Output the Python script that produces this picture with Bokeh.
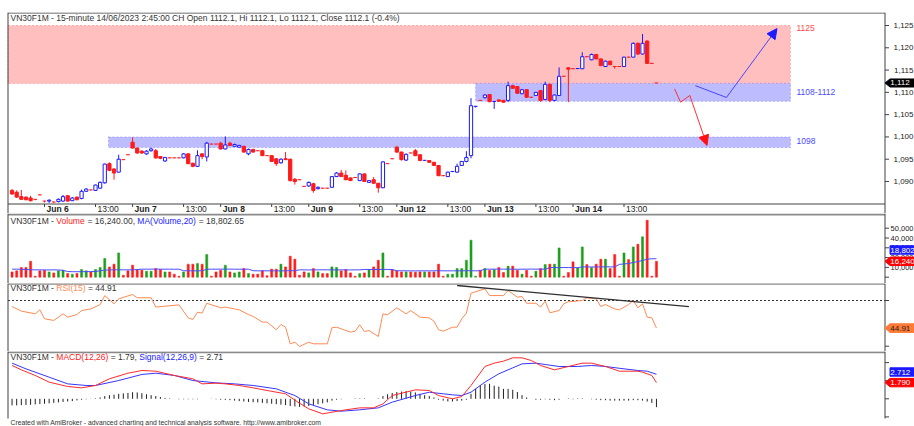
from bokeh.plotting import figure
from bokeh.models import Range1d, BoxAnnotation, Arrow, NormalHead
from bokeh.layouts import column
from bokeh.embed import file_html
from bokeh.resources import INLINE
from bokeh.core.properties import value

# ---------------- data ----------------
FIRST_BAR = -7          # bars before Jun 6 09:00 (Jun 5 afternoon)
bar_index = list(range(FIRST_BAR, 133))

day_ticks = [0, 11, 19, 30, 38, 49, 57, 68, 76, 87, 95, 106, 114, 125]
day_labels = ["Jun 6", "13:00", "Jun 7", "13:00", "Jun 8", "13:00", "Jun 9", "13:00",
              "Jun 12", "13:00", "Jun 13", "13:00", "Jun 14", "13:00"]

opens = [1088.0, 1087.6, 1086.6, 1086.5, 1086.3, 1086.0, 1087.0, 1085.6, 1085.6, 1085.4,
         1085.5, 1085.6, 1086.8, 1085.7, 1086.5, 1086.2, 1087.8, 1088.1, 1088.0, 1088.5,
         1089.7, 1094.0, 1092.8, 1092.1, 1094.9, 1096.0, 1098.8, 1097.5, 1096.8, 1096.2,
         1096.9, 1096.9, 1095.6, 1094.6, 1095.3, 1095.3, 1095.3, 1095.3, 1096.2, 1094.1,
         1093.4, 1096.2, 1095.5, 1098.4, 1098.4, 1098.6, 1097.3, 1098.6, 1097.9, 1097.7,
         1097.9, 1096.2, 1097.2, 1096.9, 1096.9, 1095.8, 1095.8, 1095.1, 1094.2, 1095.1,
         1095.0, 1090.5, 1090.4, 1088.9, 1089.0, 1089.5, 1088.4, 1088.5, 1088.5, 1088.7,
         1091.1, 1091.9, 1091.4, 1090.8, 1090.9, 1090.2, 1091.7, 1089.8, 1090.4, 1089.6,
         1088.6, 1094.0, 1095.1, 1097.7, 1096.6, 1094.8, 1096.4, 1096.9, 1096.0, 1094.65,
         1094.7, 1094.3, 1093.6, 1091.3, 1091.1, 1092.15, 1092.1, 1093.6, 1094.5, 1095.8,
         1106.75, 1108.2, 1108.8, 1109.5, 1107.85, 1108.3, 1108.2, 1108.2, 1111.5, 1111.3,
         1109.7, 1110.6, 1108.9, 1109.3, 1110.4, 1108.4, 1111.8, 1108.2, 1109.3, 1113.6,
         1115.5, 1115.3, 1115.25, 1115.3, 1118.0, 1117.3, 1118.5, 1117.5, 1115.8, 1117.0,
         1115.8, 1115.8, 1115.8, 1117.9, 1117.9, 1121.0, 1118.6, 1121.5, 1116.5, 1112.1]
highs = [1088.3, 1088.0, 1088.1, 1086.6, 1086.8, 1086.1, 1087.1, 1085.7, 1086.0, 1085.5,
         1086.2, 1087.0, 1087.0, 1086.5, 1086.6, 1088.2, 1088.5, 1088.2, 1089.3, 1090.0,
         1094.0, 1094.3, 1093.0, 1096.0, 1095.0, 1096.1, 1099.9, 1097.6, 1097.0, 1097.0,
         1097.6, 1097.3, 1095.7, 1095.5, 1095.4, 1095.4, 1095.4, 1096.4, 1096.3, 1094.2,
         1097.0, 1096.3, 1098.9, 1098.5, 1098.5, 1098.9, 1100.1, 1098.9, 1098.5, 1098.2,
         1098.0, 1097.4, 1097.3, 1097.0, 1097.0, 1095.9, 1095.9, 1095.2, 1095.2, 1096.6,
         1095.1, 1090.8, 1090.5, 1089.0, 1090.0, 1089.7, 1088.9, 1088.6, 1088.6, 1091.2,
         1092.1, 1092.6, 1092.5, 1090.9, 1091.0, 1091.8, 1091.8, 1090.3, 1091.0, 1089.7,
         1094.5, 1094.1, 1095.2, 1098.0, 1096.7, 1096.3, 1096.5, 1097.3, 1096.1, 1094.8,
         1094.8, 1094.4, 1093.7, 1091.4, 1092.2, 1092.3, 1094.0, 1094.6, 1096.8, 1108.7,
         1107.0, 1108.3, 1109.6, 1109.6, 1108.0, 1108.4, 1108.3, 1112.4, 1111.7, 1111.4,
         1110.7, 1110.7, 1109.0, 1110.1, 1110.5, 1112.4, 1112.0, 1109.5, 1115.6, 1113.7,
         1115.6, 1115.4, 1115.4, 1119.0, 1118.1, 1118.7, 1118.6, 1117.6, 1117.1, 1117.1,
         1115.9, 1115.9, 1118.0, 1118.0, 1121.2, 1121.2, 1123.1, 1121.7, 1116.6, 1112.1]
lows = [1087.0, 1086.3, 1085.9, 1085.8, 1085.5, 1085.8, 1086.9, 1085.3, 1085.2, 1085.2,
        1085.3, 1085.5, 1085.5, 1085.6, 1085.8, 1086.0, 1087.7, 1088.0, 1087.9, 1088.4,
        1089.5, 1092.3, 1090.4, 1092.0, 1094.8, 1095.9, 1097.4, 1096.2, 1096.2, 1096.0,
        1096.7, 1095.1, 1095.0, 1094.4, 1095.2, 1095.2, 1095.2, 1095.2, 1093.9, 1093.2,
        1093.3, 1095.0, 1094.5, 1098.3, 1098.3, 1097.2, 1097.2, 1098.0, 1097.8, 1097.6,
        1096.5, 1095.9, 1096.5, 1096.8, 1095.7, 1095.7, 1094.4, 1093.5, 1094.0, 1094.8,
        1090.0, 1089.3, 1090.3, 1088.8, 1088.8, 1087.5, 1088.2, 1088.4, 1088.4, 1088.6,
        1091.0, 1091.0, 1090.3, 1090.1, 1090.8, 1090.1, 1089.9, 1089.7, 1089.5, 1087.5,
        1088.5, 1093.9, 1095.0, 1096.4, 1094.7, 1094.6, 1096.3, 1095.7, 1094.6, 1094.6,
        1094.2, 1093.5, 1091.2, 1091.2, 1091.0, 1092.1, 1092.0, 1093.5, 1094.3, 1095.2,
        1106.6, 1108.1, 1108.6, 1107.8, 1106.3, 1107.9, 1107.7, 1107.8, 1110.8, 1109.7,
        1109.6, 1108.8, 1108.8, 1109.2, 1107.9, 1108.3, 1107.8, 1108.0, 1109.2, 1113.5,
        1107.8, 1115.2, 1115.2, 1115.2, 1117.9, 1117.2, 1117.4, 1115.9, 1115.7, 1116.1,
        1115.3, 1115.7, 1115.7, 1117.8, 1117.8, 1118.4, 1118.5, 1116.4, 1116.4, 1112.1]
closes = [1087.2, 1086.5, 1086.0, 1085.9, 1085.7, 1086.0, 1087.0, 1085.6, 1085.8, 1085.4,
          1086.0, 1086.6, 1085.6, 1086.3, 1085.9, 1087.8, 1088.3, 1088.1, 1089.2, 1089.8,
          1093.9, 1092.5, 1091.9, 1095.0, 1094.9, 1096.0, 1097.5, 1096.4, 1096.4, 1096.8,
          1097.3, 1095.3, 1095.2, 1095.4, 1095.3, 1095.3, 1095.3, 1096.2, 1094.0, 1093.4,
          1095.8, 1095.6, 1098.6, 1098.4, 1098.4, 1097.3, 1098.2, 1098.1, 1098.3, 1098.1,
          1096.6, 1097.2, 1096.6, 1096.9, 1095.8, 1095.8, 1094.5, 1094.0, 1095.0, 1094.9,
          1090.2, 1090.0, 1090.4, 1088.9, 1089.8, 1088.0, 1088.7, 1088.5, 1088.5, 1091.1,
          1091.9, 1091.1, 1090.4, 1090.2, 1090.9, 1091.7, 1090.0, 1090.2, 1089.6, 1088.6,
          1094.4, 1094.0, 1095.1, 1096.6, 1094.9, 1096.1, 1096.4, 1095.8, 1094.7, 1094.75,
          1094.3, 1093.6, 1091.3, 1091.3, 1092.1, 1092.25, 1093.4, 1094.5, 1095.4, 1107.0,
          1106.85, 1108.2, 1109.4, 1107.9, 1107.95, 1108.0, 1107.8, 1111.5, 1110.9, 1109.8,
          1110.6, 1108.9, 1108.9, 1110.0, 1108.2, 1111.8, 1108.2, 1109.4, 1113.6, 1113.6,
          1115.2, 1115.3, 1115.35, 1118.0, 1118.0, 1118.5, 1117.5, 1116.0, 1117.0, 1116.2,
          1115.8, 1115.8, 1117.9, 1117.9, 1121.0, 1118.6, 1121.0, 1116.5, 1116.5, 1112.1]

volume = [5400, 6500, 9900, 9900, 16300, 1000, 6500, 7100, 5400, 4400,
          6500, 7100, 3700, 3100, 3700, 7800, 6500, 5400, 7800, 9900,
          19100, 10500, 13300, 24800, 2000, 6500, 12300, 7800, 7100, 6100,
          6100, 8800, 7800, 5400, 5400, 3100, 1000, 5400, 13300, 13300,
          14000, 13300, 23200, 1000, 5400, 7100, 12300, 5400, 4400, 5400,
          8800, 3700, 3100, 3100, 6500, 1500, 8200, 8200, 13300, 10500,
          21400, 18400, 2000, 5400, 4400, 8800, 5400, 3700, 3700, 10500,
          9900, 6500, 7800, 4400, 1000, 3700, 4400, 7800, 10500, 17300,
          24800, 1000, 7800, 6500, 5400, 5400, 5400, 5100, 5400, 5400,
          5400, 5400, 13300, 1000, 3000, 3100, 8800, 8800, 17300, 37800,
          1000, 7100, 8800, 7100, 7800, 9900, 4800, 11300, 11300, 7100,
          3100, 7100, 1000, 6100, 8800, 12900, 13300, 13300, 29900, 1000,
          4800, 15700, 9500, 30900, 12900, 9900, 13300, 18400, 18400, 8800,
          23200, 1000, 24800, 18000, 30900, 33700, 41200, 58200, 1000, 16240]
vol_ma = [8200, 8200, 8100, 7800, 7600, 7500, 7500, 7400, 7400, 7500,
          7400, 7000, 5800, 5600, 5600, 5600, 5700, 5700, 5800, 6600,
          7200, 7400, 7500, 7600, 7500, 7500, 7500, 7800, 8200, 8200,
          8200, 8300, 8200, 8200, 8200, 8100, 8200, 6600, 6500, 6500,
          6500, 6600, 8100, 8200, 8200, 8200, 8300, 8200, 8200, 8100,
          8200, 8200, 6600, 6500, 6500, 6500, 6500, 6400, 6500, 6500,
          6600, 6600, 7500, 7500, 7400, 7500, 7500, 7600, 7500, 7500,
          7400, 7500, 7500, 7400, 7500, 7500, 7900, 7900, 7800, 7900,
          8000, 7900, 7900, 6500, 6600, 6500, 6500, 6400, 6500, 6500,
          6500, 6500, 6600, 6500, 6500, 6500, 6500, 6500, 6600, 6600,
          6500, 6600, 8200, 8200, 8200, 8300, 8200, 8200, 8200, 8100,
          8200, 8200, 8300, 8200, 8200, 8200, 9800, 9800, 9800, 9900,
          9800, 9800, 9800, 10500, 10500, 10400, 10500, 10500, 10600, 10500,
          10500, 13100, 13500, 14000, 15000, 16000, 17000, 18400, 18800, 18802.65]

rsi_bar = [-7, -5, -2, -1, 0, 2, 4, 5, 7, 8, 10, 12, 13, 15, 16, 19, 20, 23, 24, 29,
           31, 32, 33, 34, 35, 38, 39, 41, 42, 44, 45, 47, 48, 50, 51, 52, 53, 54, 55, 57,
           58, 61, 62, 63, 66, 67, 68, 69, 70, 72, 73, 74, 76, 78, 79, 81, 83, 84, 85, 86,
           88, 89, 90, 91, 92, 95, 96, 99, 100, 102, 103, 104, 106, 107, 108, 109, 111, 112,
           113, 116, 117, 119, 120, 121, 123, 124, 126, 127, 128, 129, 130, 131, 132]
rsi_val = [56.7, 54.2, 52.7, 54.9, 50.0, 49.1, 52.7, 50.9, 52.3, 54.5, 55.4, 57.8, 62.7,
           58.2, 60.9, 63.3, 61.5, 61.5, 56.4, 57.6, 50.5, 49.6, 53.6, 53.1, 58.5, 56.0,
           56.4, 55.4, 54.9, 52.3, 51.3, 48.2, 48.2, 44.0, 46.9, 45.4, 36.3, 37.2, 34.8,
           37.2, 36.3, 36.3, 45.1, 45.4, 42.7, 43.2, 46.7, 43.0, 43.6, 40.3, 52.7, 52.2,
           56.0, 52.7, 54.5, 50.9, 50.5, 48.7, 44.0, 43.2, 45.4, 45.4, 50.0, 53.1, 64.0,
           66.4, 62.7, 62.7, 65.5, 61.8, 62.2, 58.5, 58.5, 56.4, 59.6, 53.3, 54.5, 58.2,
           59.3, 60.0, 61.5, 60.9, 56.7, 57.8, 55.4, 54.9, 57.8, 60.0, 56.0, 58.2, 50.9,
           50.5, 44.91]
rsi_trend_bar = [89.0, 139.0]
rsi_trend_val = [68.2, 56.7]

macd_bar = [-7, -5, -2, 1, 5, 8, 11, 14, 18, 21, 24, 28, 32, 34, 37, 39, 42, 45, 48, 52,
            55, 57, 60, 62, 65, 68, 71, 73, 75, 80, 83, 85, 88, 90, 92, 95, 97, 99, 101,
            103, 105, 107, 110, 113, 116, 118, 121, 124, 126, 128, 129, 131, 132]
macd_val = [3.68, 3.20, 2.58, 1.84, 1.36, 1.21, 1.47, 2.21, 2.83, 3.13, 3.05, 2.58, 2.21,
            1.65, 1.73, 1.65, 1.47, 1.21, 0.92, 0.55, -0.48, -1.11, -1.66, -1.48, -1.22,
            -1.00, -1.00, -0.56, 0.36, 0.99, 0.92, 0.36, 0.0, 0.25, 1.47, 3.57, 3.94, 4.16,
            4.53, 4.53, 4.23, 3.68, 3.20, 3.57, 3.94, 3.94, 3.57, 3.05, 3.05, 3.05, 2.94,
            2.58, 1.79]
sig_bar = [-7, -4, 1, 5, 9, 11, 16, 21, 24, 28, 32, 37, 41, 45, 50, 54, 57, 61, 64, 68,
           72, 75, 80, 83, 86, 88, 90, 92, 95, 98, 101, 103, 106, 108, 111, 115, 118, 121,
           125, 128, 130, 132]
sig_val = [3.94, 3.31, 2.39, 1.65, 1.47, 1.47, 2.02, 2.69, 2.83, 2.58, 2.02, 1.76, 1.65,
           1.47, 1.10, 0.36, -0.56, -1.22, -1.37, -1.22, -1.00, -0.37, 0.36, 0.73, 0.55,
           0.44, 0.36, 0.73, 1.84, 2.76, 3.42, 3.86, 3.94, 3.79, 3.57, 3.57, 3.68, 3.57,
           3.31, 3.13, 3.05, 2.71]
hist = [-0.73, -0.73, -0.70, -0.68, -0.66, -0.62, -0.58, -0.55,
        -0.5, -0.45, -0.4, -0.35, -0.3, -0.25, -0.18,
        -0.1, -0.05, 0.02, 0.05,
        0.15, 0.3, 0.4, 0.45, 0.55, 0.6, 0.65, 0.73, 0.7, 0.62, 0.5, 0.4,
        0.3, 0.2, 0.1, 0.05, 0.0, -0.05, -0.05, -0.05, -0.05, -0.05, 0.0, 0.0, 0.02,
        -0.05, -0.1, -0.12, -0.15, -0.2, -0.25, -0.3, -0.35, -0.38, -0.4, -0.45, -0.5,
        -0.55, -0.6, -0.65, -0.7, -0.8, -0.85, -0.9,
        -0.85, -0.8, -0.7, -0.6, -0.5, -0.4,
        -0.2, -0.1, -0.05, 0.0, 0.0, 0.05, 0.05, 0.05, 0.0, 0.0, 0.05,
        0.3, 0.5, 0.65, 0.75, 0.8, 0.85, 0.8, 0.7, 0.55, 0.4, 0.3, 0.15,
        -0.1, -0.2, -0.3, -0.3, -0.25, -0.2, -0.1,
        0.55, 1.1, 1.5, 1.65, 1.65, 1.45, 1.35, 1.1, 1.1, 1.0, 0.75, 0.4, 0.15,
        0.0, -0.1, -0.1, -0.05, -0.1, -0.15, -0.1, 0.0, 0.05, -0.05, 0.05, 0.05, 0.0,
        -0.05, -0.1, -0.15, -0.15, -0.2, -0.2, -0.2, -0.2, -0.2, -0.15, -0.15, -0.2,
        -0.3, -0.45, -0.92]

price_ticks = [1090, 1095, 1100, 1105, 1110, 1115, 1120, 1125]
price_tick_labels = ["1,090", "1,095", "1,100", "1,105", "1,110", "1,115", "1,120", "1,125"]
vol_ticks = [0, 10000, 20000, 30000, 40000, 50000]
vol_label_ticks = [10000, 20000, 30000, 40000, 50000]
vol_tick_labels = ["10,000", "20,000", "30,000", "40,000", "50,000"]
rsi_ticks = [35, 60]
rsi_level = 60
macd_ticks = [-2, 0, 2, 4]

# zones (price levels) and their bar extents
red_zone = (1112.0, 1125.0)
mid_zone = (1108.0, 1112.0)
low_zone = (1097.6, 1100.0)
zone_end_bar = 160.9
mid_zone_start = 93.0
low_zone_start = 13.8
# projected paths (bar, price)
up_path_bar = [140.4, 147.1, 158.0]
up_path_px = [1111.5, 1108.85, 1124.3]
down_path_bar = [135.9, 137.2, 139.2, 142.9]
down_path_px = [1110.8, 1107.8, 1109.3, 1098.1]

FOOTER = ("Created with AmiBroker - advanced charting and technical analysis software. "
          "http://www.amibroker.com")

# ---------------- layout helpers ----------------
W = 914
DX = 4.636      # screen px per bar
X_BAR0 = 44.0   # page x of bar 0


def ix(page_x):
    return (page_x - X_BAR0) / DX


def py(yp):
    return 1125 - (yp - 25) / 4.457


def vy(yp):
    return (276.7 - yp) / 0.98 * 1000


def ry(yp):
    return 60 - (yp - 300) / 1.828


def my(yp):
    return (398.3 - yp) / 9.05


xr = Range1d(ix(0), ix(914))
FONT = "Liberation Sans"
FS = "8.5px"
DARK = "#333333"
AXIS = "#404040"
SEP = "#8a8a8a"
RED = "#ff1a1a"
BLUE = "#1a1aff"
GREEN = "#1e9e1e"
ORANGE = "#ff8a55"
LEFT = 7.5
RIGHT = 884.5

AWID = {' ': 278, '%': 889, '(': 333, ')': 333, ',': 278, '-': 333, '.': 278, '/': 278,
        ':': 278, '=': 584, 'A': 667, 'C': 722, 'D': 722, 'F': 611, 'H': 722, 'I': 278,
        'L': 556, 'M': 833, 'N': 722, 'O': 778, 'R': 722, 'S': 667, 'V': 667,
        'a': 556, 'e': 556, 'g': 556, 'i': 222, 'l': 222, 'm': 833, 'n': 556, 'o': 556,
        'p': 556, 's': 500, 't': 278, 'u': 556}


def tw(s, size=8.5):
    return sum(AWID.get(c, 556) for c in s) * size / 1000.0


def make_fig(h, yr, top=0):
    f = figure(width=W, height=h, x_range=xr, y_range=Range1d(*yr), toolbar_location=None,
               output_backend="svg", x_axis_type=None, y_axis_type=None,
               min_border=0, min_border_top=top, min_border_bottom=0,
               min_border_left=0, min_border_right=0)
    f.outline_line_color = None
    f.background_fill_color = "white"
    f.border_fill_color = "white"
    return f


def put(f, x, y, s, color, align="left", bold=False, size=FS, xo=0, yo=0):
    f.text(x=x if isinstance(x, list) else [x], y=y if isinstance(y, list) else [y],
           text=s if isinstance(s, list) else [s], text_color=color,
           text_font=value(FONT), text_font_size=value(size), text_align=align,
           text_baseline="middle", text_font_style="bold" if bold else "normal",
           x_offset=xo, y_offset=yo)


def header(f, y, parts, x_page=10.0):
    x = x_page
    for s, col in parts:
        stripped = s.lstrip(' ')
        x += tw(' ') * (len(s) - len(stripped))
        put(f, ix(x), y, stripped, col)
        x += tw(stripped)


def borders(f, ymap, top_y, bot_y):
    f.segment(x0=[ix(LEFT), ix(RIGHT)], y0=[ymap(top_y)] * 2, x1=[ix(LEFT), ix(RIGHT)],
              y1=[ymap(bot_y)] * 2, line_color=AXIS, line_width=1)


def right_ticks(f, ticks):
    n = len(ticks)
    f.segment(x0=[ix(RIGHT)] * n, y0=ticks, x1=[ix(888.5)] * n, y1=ticks,
              line_color=AXIS, line_width=1)


def marker(f, yv, half, fill, label, tcol, arrow=True):
    xt, xb, xe = ix(RIGHT), ix(889.5), ix(916)
    if arrow:
        xs = [xt, xb, xe, xe, xb]
        ys = [yv, yv + half, yv + half, yv - half, yv - half]
    else:
        xs = [xb, xe, xe, xb]
        ys = [yv + half, yv + half, yv - half, yv - half]
    f.patch(xs, ys, fill_color=fill, line_color=fill)
    put(f, ix(889.8), yv, label, tcol, size="8px")


# ---------------- price pane ----------------
pp = make_fig(213, (py(213), py(12)), top=12)
pp.add_layout(BoxAnnotation(left=ix(LEFT), right=zone_end_bar, bottom=red_zone[0],
                            top=red_zone[1], fill_color="#ffbfbf", fill_alpha=1,
                            line_color="#ff3b3b", line_dash="2 2", line_width=1,
                            level="underlay"))
pp.add_layout(BoxAnnotation(left=mid_zone_start, right=zone_end_bar, bottom=mid_zone[0],
                            top=mid_zone[1], fill_color="#bcbcff", fill_alpha=1,
                            line_color="#3b3bff", line_dash="2 2", line_width=1, level="underlay"))
pp.add_layout(BoxAnnotation(left=low_zone_start, right=zone_end_bar, bottom=low_zone[0],
                            top=low_zone[1], fill_color="#bcbcff", fill_alpha=1,
                            line_color="#3b3bff", line_dash="2 2", line_width=1, level="underlay"))

up_x, up_lo, up_hi, dn_x, dn_lo, dn_hi, dj_x, dj_y, dj_c = [], [], [], [], [], [], [], [], []
wick_c = []
for i, o, h, l, c in zip(bar_index, opens, highs, lows, closes):
    up = c > o
    wick_c.append(BLUE if up else RED)
    if abs(c - o) < 0.12:
        dj_x.append(i)
        dj_y.append(c)
        dj_c.append(BLUE if up else RED)
    elif up:
        up_x.append(i); up_lo.append(o); up_hi.append(c)
    else:
        dn_x.append(i); dn_lo.append(c); dn_hi.append(o)

pp.segment(x0=bar_index, y0=lows, x1=bar_index, y1=highs, line_color=wick_c, line_width=1)
pp.vbar(x=up_x, bottom=up_lo, top=up_hi, width=0.7, fill_color="white", line_color=BLUE,
        line_width=1)
pp.vbar(x=dn_x, bottom=dn_lo, top=dn_hi, width=0.7, fill_color=RED, line_color=RED,
        line_width=1)
pp.segment(x0=[x - 0.4 for x in dj_x], y0=dj_y, x1=[x + 0.4 for x in dj_x], y1=dj_y,
           line_color=dj_c, line_width=1)

# projections
pp.line(up_path_bar[:2], up_path_px[:2], line_color="#4646ff", line_width=1)
pp.add_layout(Arrow(end=NormalHead(size=10, fill_color="#1c1cff", line_color="#1c1cff"),
                    x_start=up_path_bar[1], y_start=up_path_px[1], x_end=up_path_bar[2],
                    y_end=up_path_px[2], line_color="#4646ff", line_width=1))
pp.line(down_path_bar[:3], down_path_px[:3], line_color="#ff3030", line_width=1)
pp.add_layout(Arrow(end=NormalHead(size=10, fill_color="#ff1010", line_color="#ff1010"),
                    x_start=down_path_bar[2], y_start=down_path_px[2], x_end=down_path_bar[3],
                    y_end=down_path_px[3], line_color="#ff3030", line_width=1))

put(pp, ix(796), 1124.4, "1125", "#ff4a4a")
put(pp, ix(796), sum(mid_zone) / 2, "1108-1112", "#4a4aff")
put(pp, ix(796), sum(low_zone) / 2 + 0.3, "1098", "#4a4aff")

# date axis
pp.segment(x0=[ix(LEFT)], y0=[py(203.5)], x1=[ix(RIGHT)], y1=[py(203.5)], line_color=AXIS)
n = len(day_ticks)
pp.segment(x0=day_ticks, y0=[py(203.5)] * n, x1=day_ticks, y1=[py(206.5)] * n, line_color=AXIS)
for t, lab in zip(day_ticks, day_labels):
    put(pp, t, py(208.2), lab, "#222222", bold=lab.startswith("Jun"), xo=2)

# frame
pp.segment(x0=[ix(LEFT)], y0=[py(12.5)], x1=[ix(RIGHT)], y1=[py(12.5)], line_color=AXIS)
borders(pp, py, 12, 213)
right_ticks(pp, price_ticks)
put(pp, [ix(913)] * len(price_ticks), price_ticks, price_tick_labels, "#222222",
    align="right", size="8px")
marker(pp, closes[-1], 0.9, "#000000", "1,112", "white")
header(pp, py(17.8), [("VN30F1M - 15-minute 14/06/2023 2:45:00 CH Open 1112.1, Hi 1112.1, "
                       "Lo 1112.1, Close 1112.1 (-0.4%)", DARK)])

# ---------------- volume pane ----------------
vp = make_fig(70, (vy(283), vy(213)))
vcol = [GREEN if c > o else RED for o, c in zip(opens, closes)]
vp.vbar(x=bar_index, bottom=0, top=volume, width=0.45, fill_color=vcol, line_color=vcol,
        line_width=0.5)
vp.line(bar_index, vol_ma, line_color="#4a4aff", line_width=1)
vp.segment(x0=[ix(LEFT)], y0=[vy(214)], x1=[ix(RIGHT)], y1=[vy(214)], line_color=SEP,
           line_width=2)
borders(vp, vy, 213, 283)
right_ticks(vp, vol_ticks)
put(vp, [ix(913)] * len(vol_label_ticks), vol_label_ticks, vol_tick_labels, "#222222",
    align="right", size="7.5px")
marker(vp, vy(249.5), 4286, "#1a1aff", "18,802", "white", arrow=False)
marker(vp, volume[-1], 4286, "#ff0000", "16,240", "white")
header(vp, vy(220.2), [("VN30F1M - ", DARK), ("Volume", RED), (" = 16,240.00, ", DARK),
                       ("MA(Volume,20)", BLUE), (" = 18,802.65", DARK)])

# ---------------- RSI pane ----------------
rp = make_fig(68, (ry(351), ry(283)))
rp.segment(x0=[ix(LEFT)], y0=[rsi_level], x1=[ix(RIGHT)], y1=[rsi_level], line_color="#333333",
           line_dash="2 2", line_width=1)
rp.line(rsi_bar, rsi_val, line_color=ORANGE, line_width=1)
rp.line(rsi_trend_bar, rsi_trend_val, line_color="#2e2e2e", line_width=1.3)
rp.segment(x0=[ix(LEFT)], y0=[ry(283.3)], x1=[ix(RIGHT)], y1=[ry(283.3)], line_color=SEP,
           line_width=2)
borders(rp, ry, 283, 351)
right_ticks(rp, rsi_ticks)
marker(rp, rsi_val[-1], 2.35, "#ff7a35", "44.91", "#222222")
header(rp, ry(287.5), [("VN30F1M - ", DARK), ("RSI(15)", ORANGE), (" = 44.91", DARK)])

# ---------------- MACD pane (with footer strip) ----------------
mp = make_fig(75, (my(426), my(351)))
mp.segment(x0=bar_index, y0=[0] * len(bar_index), x1=bar_index, y1=hist, line_color="#202020",
           line_width=1)
mp.line(sig_bar, sig_val, line_color="#3535ff", line_width=1)
mp.line(macd_bar, macd_val, line_color="#ff2a2a", line_width=1)
mp.segment(x0=[ix(LEFT)], y0=[my(351.7)], x1=[ix(RIGHT)], y1=[my(351.7)], line_color=SEP,
           line_width=2)
borders(mp, my, 351, 418)
right_ticks(mp, macd_ticks)
marker(mp, my(371.5), 0.464, "#1a1aff", "2.712", "white", arrow=False)
marker(mp, macd_val[-1], 0.464, "#ff0000", "1.790", "white")
header(mp, my(356.7), [("VN30F1M - ", DARK), ("MACD(12,26)", RED), (" = 1.79, ", DARK),
                       ("Signal(12,26,9)", BLUE), (" = 2.71", DARK)])
put(mp, ix(10), my(421.8), FOOTER, "#333333", size="6.8px")

layout = column(pp, vp, rp, mp, spacing=0)
open("out.html", "w").write(file_html(layout, INLINE))
